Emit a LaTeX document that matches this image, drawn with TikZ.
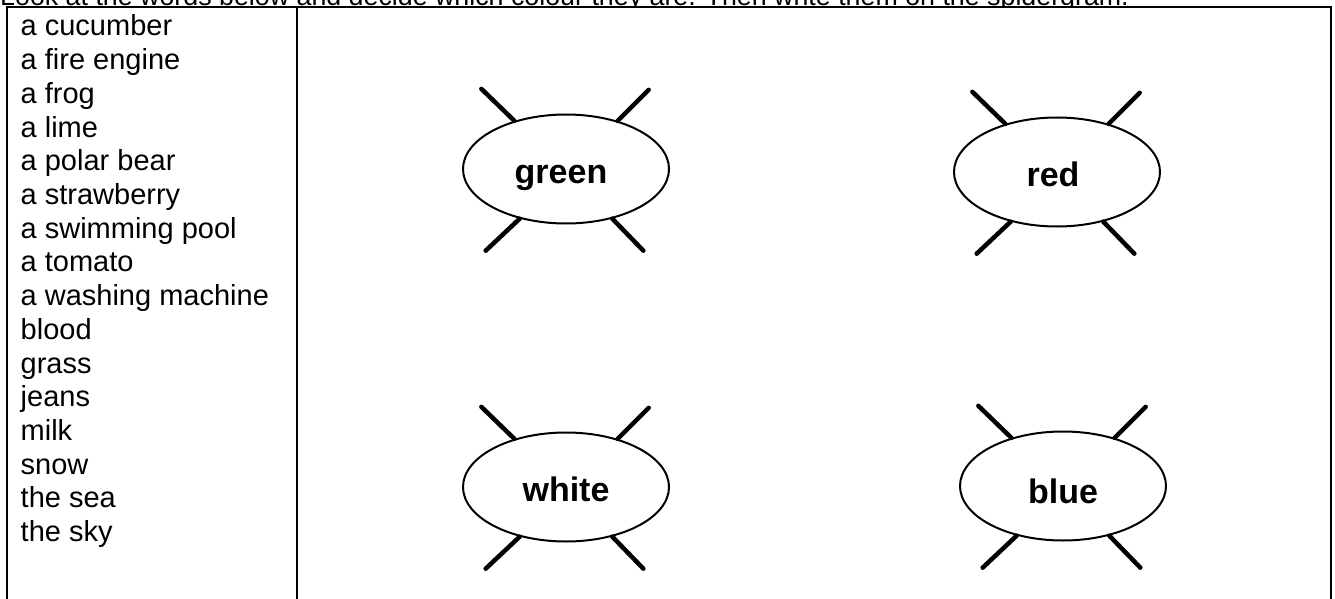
\documentclass[tikz,border=0pt]{standalone}
\usepackage{fontspec}
\setmainfont{Liberation Sans}
\usetikzlibrary{shapes.geometric}
\begin{document}
\begin{tikzpicture}[x=1pt,y=-1pt,
  listitem/.style={anchor=base west,inner sep=0pt,font=\fontsize{29}{33.7}\selectfont},
  heading/.style={anchor=base west,inner sep=0pt,font=\fontsize{26.8}{32}\selectfont},
  blob/.style={ellipse,draw,line width=2pt,minimum width=206pt,minimum height=109pt,inner sep=0pt,
    font=\fontsize{34}{40}\selectfont\bfseries,text height=28pt,text depth=0pt},
  spoke/.style={line width=4.5pt,line cap=round},
  rule/.style={line width=2pt}]
\useasboundingbox (0,0) rectangle (1335,599);
\clip (0,0) rectangle (1335,599);
\node[heading] (head) at (0,5.5) {Look at the words below and decide which colour they are. Then write them on the spidergram.};
\fill[white] (7,7) rectangle (1330.5,620);
\draw[rule] (7,620) -- (7,7) -- (1330.5,7) -- (1330.5,620);
\draw[rule] (297,7) -- (297,620);
\foreach \t [count=\i from 0] in {a cucumber,a fire engine,a frog,a lime,a polar bear,a strawberry,a swimming pool,a tomato,a washing machine,blood,grass,jeans,milk,snow,the sea,the sky}
  \node[listitem] (item\i) at (20.5,{36+33.7*\i}) {\t};
\node[blob] (green) at (566,169) {\hspace*{-10pt}green};
\node[blob] (red) at (1057,172) {\hspace*{-8pt}red};
\node[blob] (white) at (566,487) {white};
\node[blob,text height=34pt] (blue) at (1063,486) {blue};
\foreach \n in {green,red,white,blue} {
  \draw[spoke] (\n.137) -- ++(-33,-32);
  \draw[spoke] (\n.43) -- ++(31,-31);
  \draw[spoke] (\n.227) -- ++(-34,32);
  \draw[spoke] (\n.313) -- ++(31,32);
}
\end{tikzpicture}
\end{document}
